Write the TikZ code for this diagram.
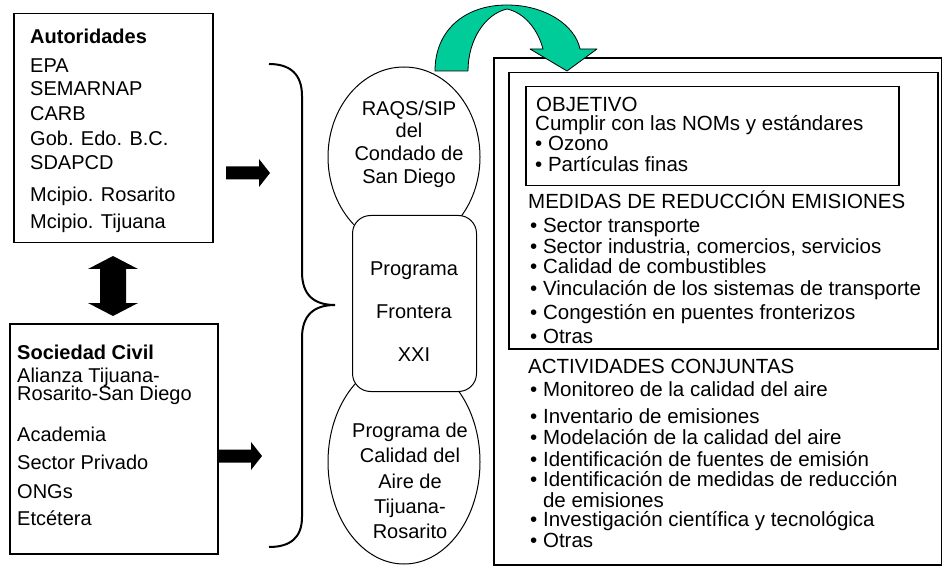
\documentclass[tikz,border=0pt]{standalone}
\usepackage{fontspec}
\setmainfont{Liberation Sans}
\usetikzlibrary{shapes.geometric}
\definecolor{arrowgreen}{HTML}{00CC99}
\tikzset{
  txt/.style={anchor=base west, inner sep=0pt, font=\fontsize{20}{24}\selectfont},
  rtxt/.style={anchor=base west, inner sep=0pt, font=\fontsize{20.5}{24}\selectfont},
  ctxt/.style={anchor=base, inner sep=0pt, font=\fontsize{20}{24}\selectfont},
  panel/.style={draw, line width=1.5pt, fill=white, inner sep=0pt, anchor=north west},
  oval/.style={ellipse, draw, line width=1pt, fill=white, inner sep=0pt},
  blockarrow/.style={fill=black},
  bracestyle/.style={line width=2pt},
}
\begin{document}
\begin{tikzpicture}[x=1pt,y=-1pt]
\useasboundingbox (0,0) rectangle (942,569);

% ---------- left panels ----------
\node[panel, minimum width=199pt, minimum height=229pt] (aut) at (13,13) {};
\node[txt] (aut0) at (30,44) {\textbf{Autoridades}};
\node[txt] (aut1) at (30,73) {EPA};
\node[txt] (aut2) at (30,96) {SEMARNAP};
\node[txt] (aut3) at (30,121) {CARB};
\node[txt] (aut4) at (30,146) {Gob. Edo. B.C.};
\node[txt] (aut5) at (30,170) {SDAPCD};
\node[txt] (aut6) at (30,202) {Mcipio. Rosarito};
\node[txt] (aut7) at (30,229) {Mcipio. Tijuana};

\node[panel, minimum width=208pt, minimum height=230pt] (soc) at (9,323) {};
\node[txt] (soc0) at (17,359) {\textbf{Sociedad Civil}};
\node[txt] (soc1) at (17,382) {Alianza Tijuana-};
\node[txt] (soc2) at (17,400) {Rosarito-San Diego};
\node[txt] (soc3) at (17,441) {Academia};
\node[txt] (soc4) at (17,469) {Sector Privado};
\node[txt] (soc5) at (17,498) {ONGs};
\node[txt] (soc6) at (17,525) {Etcétera};

% double arrow between panels
\fill[blockarrow] (113,256) -- (138,269) -- (126,269) -- (126,303) -- (138,303)
  -- (113,316) -- (88,303) -- (100,303) -- (100,269) -- (88,269) -- cycle;

% right block arrows
\fill[blockarrow] (226,166.5) -- (259,166.5) -- (259,159) -- (270,173) -- (259,187)
  -- (259,179.5) -- (226,179.5) -- cycle;
\fill[blockarrow] (219,449.5) -- (251,449.5) -- (251,442) -- (262,456) -- (251,470)
  -- (251,462.5) -- (219,462.5) -- cycle;

% ---------- brace ----------
\draw[bracestyle] (269,64) .. controls (290,64) and (302,74) .. (302,96)
  -- (302,272) .. controls (302,295) and (314,305) .. (335,305)
  .. controls (314,305) and (302,315) .. (302,338)
  -- (302,517) .. controls (302,538) and (290,547) .. (269,547);

% ---------- central column ----------
\node[oval, minimum width=152pt, minimum height=180pt] (raqs) at (404,157) {};
\node[oval, minimum width=152pt, minimum height=204pt] (pcal) at (404,462) {};
\node[panel, line width=1pt, rounded corners=18pt, minimum width=124pt, minimum height=176pt] (pf) at (352,215) {};

\node[ctxt] (raqs1) at (409,116) {RAQS/SIP};
\node[ctxt] (raqs2) at (409,138) {del};
\node[ctxt] (raqs3) at (409,161) {Condado de};
\node[ctxt] (raqs4) at (409,184) {San Diego};

\node[ctxt] (pf1) at (414,276) {Programa};
\node[ctxt] (pf2) at (414,318) {Frontera};
\node[ctxt] (pf3) at (414,361) {XXI};

\node[ctxt] (pcal1) at (410,437) {Programa de};
\node[ctxt] (pcal2) at (410,462) {Calidad del};
\node[ctxt] (pcal3) at (410,488) {Aire de};
\node[ctxt] (pcal4) at (410,513) {Tijuana-};
\node[ctxt] (pcal5) at (410,538) {Rosarito};

% ---------- right panels ----------
\node[panel, line width=1.8pt, minimum width=448pt, minimum height=507pt] (outer) at (493,57) {};
\node[panel, minimum width=429pt, minimum height=276pt] (inner) at (508,72) {};
\node[panel, minimum width=373pt, minimum height=99pt] (obj) at (525,86) {};

\node[rtxt] (o0) at (536,112) {OBJETIVO};
\node[rtxt] (o1) at (535,131) {Cumplir con las NOMs y estándares};
\node[rtxt] (o2) at (535,151) {• Ozono};
\node[rtxt] (o3) at (535,172) {• Partículas finas};

\node[rtxt] (m0) at (528,209) {MEDIDAS DE REDUCCIÓN EMISIONES};
\node[rtxt] (m1) at (530,233) {• Sector transporte};
\node[rtxt] (m2) at (530,254) {• Sector industria, comercios, servicios};
\node[rtxt] (m3) at (530,274) {• Calidad de combustibles};
\node[rtxt] (m4) at (530,295) {• Vinculación de los sistemas de transporte};
\node[rtxt] (m5) at (530,319) {• Congestión en puentes fronterizos};
\node[rtxt] (m6) at (530,343) {• Otras};

\node[rtxt] (c0) at (528,373) {ACTIVIDADES CONJUNTAS};
\node[rtxt] (c1) at (530,396) {• Monitoreo de la calidad del aire};
\node[rtxt] (c2) at (530,423) {• Inventario de emisiones};
\node[rtxt] (c3) at (530,444) {• Modelación de la calidad del aire};
\node[rtxt] (c4) at (530,466) {• Identificación de fuentes de emisión};
\node[rtxt] (c5) at (530,486) {• Identificación de medidas de reducción};
\node[rtxt] (c6) at (530,507) {\phantom{• }de emisiones};
\node[rtxt] (c7) at (530,526) {• Investigación científica y tecnológica};
\node[rtxt] (c8) at (530,547) {• Otras};

% ---------- green curved arrow ----------
\draw[fill=arrowgreen, line width=0.8pt, line join=round]
  (435,71) .. controls (435,30) and (465,5) .. (507,5)
  .. controls (545,5) and (575,25) .. (580,49)
  -- (597,49) -- (567,71) -- (530,49) -- (543,49)
  .. controls (538,30) and (525,13) .. (507,9)
  .. controls (485,14) and (468,40) .. (468,71) -- cycle;
\end{tikzpicture}
\end{document}
